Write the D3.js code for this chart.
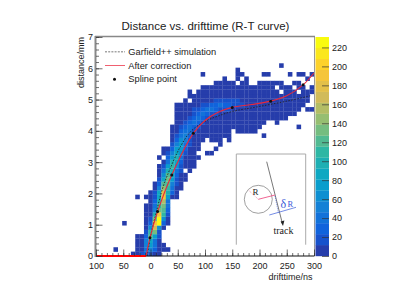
<!DOCTYPE html>
<html>
<head>
<meta charset="utf-8">
<script src="https://cdnjs.cloudflare.com/ajax/libs/d3/7.8.5/d3.min.js"></script>
<style>
  html, body { margin: 0; padding: 0; background: #fff; }
  svg { display: block; }
  text { font-family: "Liberation Sans", Arial, sans-serif; fill: #222; }
  .serif { font-family: "Liberation Serif", serif; }
</style>
</head>
<body>
<div class="container"></div>
<script>
// Histogram rows, bottom to top: first filled column of each row and its counts
const rowStart = [8, 4, 9, 9, 9, 11, 11, 6, 11, 11,
  11, 11, 12, 9, 12, 13, 13, 14, 14, 14,
  14, 15, 14, 15, 15, 17, 17, 17, 17, 17,
  18, 18, 18, 18, 18, 20, 21, 21, 24, 27,
  29, 24, 32, 42];
const rowCounts = [
  [2, 3, 14, 25, 18, 6, 1],
  [1, 0, 0, 0, 0, 4, 10, 40, 55, 30, 8, 2, 1],
  [2, 8, 50, 70, 35, 8, 2],
  [3, 6, 55, 90, 45, 10],
  [2, 5, 30, 125, 70, 12],
  [14, 110, 130, 20],
  [6, 60, 170, 60, 8],
  [2, 0, 0, 0, 0, 3, 30, 190, 225, 25, 3],
  [2, 20, 130, 230, 60, 8],
  [2, 10, 95, 185, 110, 12],
  [1, 5, 50, 130, 125, 25],
  [1, 3, 35, 110, 130, 40],
  [6, 25, 100, 160, 45],
  [1, 0, 1, 3, 18, 90, 195, 75, 8, 2],
  [3, 20, 85, 175, 100, 25, 4],
  [8, 55, 145, 110, 40, 10, 3],
  [5, 32, 120, 120, 55, 14, 3],
  [18, 90, 130, 75, 22, 6, 2],
  [10, 60, 125, 90, 32, 9, 3],
  [5, 38, 100, 100, 45, 12, 0, 3],
  [3, 18, 75, 110, 65, 22, 7, 3, 1],
  [9, 45, 95, 85, 32, 10, 3, 1],
  [1, 0, 25, 75, 95, 40, 10, 3, 1, 1],
  [2, 12, 50, 90, 60, 18, 4, 2, 0, 0, 1, 1],
  [1, 6, 30, 70, 75, 30, 8, 2, 1, 0, 0, 0, 1],
  [15, 50, 70, 40, 12, 3, 1, 0, 0, 0, 0, 1],
  [8, 30, 60, 50, 20, 5, 2, 1, 0, 1, 1, 1, 0, 1],
  [4, 15, 40, 55, 30, 10, 3, 2, 1, 1, 1, 2, 1, 1, 0, 0, 0, 0, 0, 0, 0, 1],
  [2, 8, 25, 45, 40, 18, 6, 3, 2, 2, 1, 1, 1, 1, 0, 1, 1, 1, 1, 1],
  [1, 4, 14, 30, 40, 30, 14, 6, 3, 2, 2, 1, 1, 2, 1, 1, 1, 1, 1, 1, 1, 0, 0, 0, 0, 0, 0, 0, 0, 1],
  [2, 8, 18, 32, 38, 24, 12, 8, 4, 3, 2, 2, 1, 1, 2, 1, 1, 1, 1, 1, 1, 0, 0, 1],
  [1, 4, 10, 20, 32, 35, 24, 14, 8, 5, 3, 3, 2, 2, 1, 1, 2, 1, 1, 1, 1, 1, 1, 1, 1, 1],
  [1, 2, 5, 10, 20, 30, 36, 30, 20, 12, 8, 6, 4, 3, 3, 2, 2, 2, 1, 1, 1, 1, 1, 1, 1, 1, 1, 1],
  [1, 1, 3, 6, 12, 20, 26, 36, 38, 30, 22, 16, 12, 8, 6, 4, 3, 2, 2, 2, 1, 1, 1, 1, 1, 1, 1, 1, 1, 0, 1, 1],
  [1, 1, 2, 3, 6, 10, 16, 20, 26, 32, 36, 32, 26, 22, 20, 14, 8, 4, 3, 2, 2, 2, 1, 1, 1, 1, 1, 1, 1, 1],
  [1, 0, 1, 2, 3, 5, 8, 12, 15, 16, 16, 14, 12, 10, 8, 6, 4, 3, 2, 2, 2, 1, 1, 1, 1, 1, 1, 1, 1],
  [1, 1, 2, 3, 4, 5, 6, 8, 8, 7, 6, 5, 4, 4, 3, 3, 2, 2, 1, 1, 1, 1, 1, 1, 1, 1, 1, 1],
  [1, 0, 1, 1, 1, 1, 2, 2, 2, 2, 2, 2, 1, 1, 1, 1, 1, 1, 1, 1, 1, 0, 1, 1, 1, 0, 1, 1, 1],
  [1, 1, 1, 1, 1, 1, 1, 1, 1, 2, 1, 1, 1, 1, 1, 1, 1, 0, 1, 1, 1, 0, 1, 1, 0, 1],
  [1, 1, 1, 1, 1, 0, 1, 1, 0, 0, 1, 1, 1, 1, 1, 1, 0, 0, 1, 1],
  [1, 0, 0, 1, 0, 1, 0, 0, 0, 0, 0, 0, 0, 0, 0, 0, 0, 0, 0, 1],
  [1, 0, 0, 0, 0, 0, 0, 0, 1, 1, 0, 0, 0, 0, 1, 1, 0, 0, 0, 0, 1, 0, 1, 1, 0, 1],
  [1],
  [1]
];

// Curves
const correctionTime = [-100, -8, -1, 13, 39, 78.5, 100, 125, 150, 185, 220.5, 250, 280, 300];
const correctionDist = [0, 0, 0.58, 1.42, 2.59, 3.92, 4.33, 4.6, 4.75, 4.84, 4.95, 5.12, 5.47, 5.85];
const simTime = [-6, 0, 10, 22, 35, 55, 75, 100, 125, 150, 200, 250, 293];
const simDist = [0, 0.62, 1.35, 2.15, 2.75, 3.5, 4.0, 4.3, 4.48, 4.62, 4.78, 4.95, 5.12];
const splineTime = [-1, 13, 39, 78.5, 150, 220.5, 280];
const splineDist = [0.58, 1.42, 2.59, 3.92, 4.75, 4.95, 5.47];

const xTicks = [-100, -50, 0, 50, 100, 150, 200, 250, 300];
const yTicks = [0, 1, 2, 3, 4, 5, 6, 7];
const colorTicks = [0, 20, 40, 60, 80, 100, 120, 140, 160, 180, 200, 220];
const legendLabels = ["Garfield++ simulation", "After correction", "Spline point"];

// ROOT "bird" palette stops
const birdStops = ["#35298a", "#0f5cdd", "#1481d6", "#06a4ca", "#2eb7a4", "#87bf77", "#d1bb59", "#fec832", "#f9fb0e"];

const width = 415;
const height = 294;
const nBinsX = 50;
const nBinsY = 50;
const maxCount = 231;
const nContours = 20;

const x = d3.scaleLinear().domain([-100, 300]).range([96, 314]);
const y = d3.scaleLinear().domain([0, 7]).range([256, 37]);
const colorAxis = d3.scaleLinear().domain([0, maxCount]).range([256, 37]);

const bird = d3.scaleLinear()
    .domain(birdStops.map((d, i) => i / (birdStops.length - 1)))
    .range(birdStops);
const bands = d3.range(nContours).map(i => bird((i + 1) / nContours));
const color = d3.scaleQuantize().domain([0, maxCount]).range(bands);

const svg = d3.select(".container").append("svg")
    .attr("width", width)
    .attr("height", height);

svg.append("text")
    .attr("x", 205.5)
    .attr("y", 30)
    .attr("text-anchor", "middle")
    .attr("font-size", 11.5)
    .text("Distance vs. drifttime (R-T curve)");

// Histogram cells
const binW = (x(300) - x(-100)) / nBinsX;
const binH = (y(0) - y(7)) / nBinsY;
const cells = [];
rowCounts.forEach(function(row, j) {
  row.forEach(function(c, k) {
    if (c > 0) cells.push({ col: rowStart[j] + k, row: j, count: c });
  });
});
svg.append("g").selectAll("rect")
    .data(cells)
    .enter().append("rect")
    .attr("x", d => x(-100) + d.col * binW)
    .attr("y", d => y(0) - (d.row + 1) * binH)
    .attr("width", binW + 0.2)
    .attr("height", binH + 0.2)
    .attr("fill", d => color(d.count));

// Colour bar
svg.append("g").selectAll("rect")
    .data(bands)
    .enter().append("rect")
    .attr("x", 315.5)
    .attr("width", 13.5)
    .attr("y", (d, i) => colorAxis((i + 1) * maxCount / nContours))
    .attr("height", maxCount / nContours * (219 / maxCount) + 0.2)
    .attr("fill", d => d);

const colorG = svg.append("g")
    .attr("transform", "translate(329,0)")
    .call(d3.axisRight(colorAxis).tickValues(colorTicks).tickSize(0).tickPadding(3));
colorG.select(".domain").remove();
colorG.selectAll("text").attr("font-size", 9).style("font-family", "Liberation Sans").attr("fill", "#222");
colorG.selectAll(".tick").append("line")
    .attr("x1", -7).attr("x2", 0).attr("stroke", "#333").attr("stroke-width", 0.7);

// Curves
const curve = d3.line().x(d => x(d[0])).y(d => y(d[1])).curve(d3.curveCatmullRom);
svg.append("path")
    .datum(d3.zip(simTime, simDist))
    .attr("d", curve)
    .attr("fill", "none")
    .attr("stroke", "#222")
    .attr("stroke-width", 0.9)
    .attr("stroke-dasharray", "1.5 1.5");
svg.append("path")
    .datum(d3.zip(correctionTime.slice(0, 2), correctionDist.slice(0, 2)))
    .attr("d", curve)
    .attr("fill", "none")
    .attr("stroke", "#f00")
    .attr("stroke-width", 2);
svg.append("path")
    .datum(d3.zip(correctionTime.slice(1), correctionDist.slice(1)))
    .attr("d", curve)
    .attr("fill", "none")
    .attr("stroke", "#e8283c")
    .attr("stroke-width", 1.1);
svg.append("g").selectAll("circle")
    .data(d3.zip(splineTime, splineDist))
    .enter().append("circle")
    .attr("cx", d => x(d[0]))
    .attr("cy", d => y(d[1]))
    .attr("r", 1.5)
    .attr("fill", "#111");

// Frame
svg.append("path").attr("d", "M95.5,256V36.5H314.5V256").attr("fill", "none").attr("stroke", "#999").attr("stroke-width", 1);
svg.append("line").attr("x1", 95.5).attr("x2", 95.5).attr("y1", 36).attr("y2", 257).attr("stroke", "#888").attr("stroke-width", 2);
svg.append("line").attr("x1", 95).attr("x2", 315).attr("y1", 36.5).attr("y2", 36.5).attr("stroke", "#888").attr("stroke-width", 1.5);

// Axes, ticks point into the plot
function styleAxis(g) {
  g.select(".domain").remove();
  g.selectAll("line").attr("stroke", "#333").attr("stroke-width", 0.7);
  g.selectAll("text").attr("font-size", 9).style("font-family", "Liberation Sans").attr("fill", "#222");
}
svg.append("g")
    .attr("transform", "translate(0,256)")
    .call(d3.axisBottom(x).tickValues(d3.range(-100, 301, 10)).tickSize(-3).tickFormat(""))
    .call(styleAxis);
svg.append("g")
    .attr("transform", "translate(0,256)")
    .call(d3.axisBottom(x).tickValues(xTicks).tickSize(-6.5).tickPadding(6.7).tickFormat(d => Math.abs(d)))
    .call(styleAxis);
svg.append("line")
    .attr("x1", x(-8)).attr("x2", 314.5).attr("y1", 256).attr("y2", 256)
    .attr("stroke", "#111").attr("stroke-width", 1.2);

svg.append("g")
    .attr("transform", "translate(96,0)")
    .call(d3.axisLeft(y).tickValues(d3.range(0, 7.01, 0.2)).tickSize(-3).tickFormat(""))
    .call(styleAxis);
svg.append("g")
    .attr("transform", "translate(96,0)")
    .call(d3.axisLeft(y).tickValues(yTicks).tickSize(-6.5).tickPadding(3).tickFormat(d3.format("d")))
    .call(styleAxis);

svg.append("text")
    .attr("x", 312.5).attr("y", 279.5)
    .attr("text-anchor", "end")
    .attr("font-size", 9)
    .text("drifttime/ns");
svg.append("text")
    .attr("transform", "translate(83.5,37) rotate(-90)")
    .attr("text-anchor", "end")
    .attr("font-size", 9)
    .text("distance/mm");

// Legend
const legendY = d3.scaleBand().domain(legendLabels).range([45, 86]);
const legend = svg.append("g").selectAll("g")
    .data(legendLabels)
    .enter().append("g")
    .attr("transform", d => "translate(0," + (legendY(d) + legendY.bandwidth() / 2) + ")");
legend.append("text")
    .attr("x", 128.3).attr("y", 3.2)
    .attr("font-size", 9.3)
    .attr("fill", "#222")
    .text(d => d);
legend.filter((d, i) => i === 0).append("line")
    .attr("x1", 105).attr("x2", 125)
    .attr("stroke", "#555").attr("stroke-width", 0.8).attr("stroke-dasharray", "2 1.2");
legend.filter((d, i) => i === 1).append("line")
    .attr("x1", 105).attr("x2", 125)
    .attr("stroke", "#f06070").attr("stroke-width", 1);
legend.filter((d, i) => i === 2).append("circle")
    .attr("cx", 114.5).attr("r", 1.5).attr("fill", "#111");

// Inset sketch of the drift circle
const inset = svg.append("g");
inset.append("path").attr("d", "M236.3,244.7V154H305.7V244.7")
    .attr("fill", "none").attr("stroke", "#aaa").attr("stroke-width", 1);
inset.append("circle").attr("cx", 258.3).attr("cy", 199.3).attr("r", 14)
    .attr("fill", "none").attr("stroke", "#777").attr("stroke-width", 0.7);
inset.append("line").attr("x1", 266.7).attr("y1", 161.7).attr("x2", 282.5).attr("y2", 224)
    .attr("stroke", "#555").attr("stroke-width", 0.8);
inset.append("path").attr("d", "M283,226L280.6,221.5L284.4,220.6Z").attr("fill", "#222");
inset.append("line").attr("x1", 258.3).attr("y1", 199.3).attr("x2", 275).attr("y2", 195)
    .attr("stroke", "#ee5588").attr("stroke-width", 0.9);
inset.append("line").attr("x1", 258.3).attr("y1", 199.3).attr("x2", 248.3).attr("y2", 190)
    .attr("stroke", "#ee7799").attr("stroke-width", 0.7).attr("stroke-dasharray", "1 1");
inset.append("line").attr("x1", 269.3).attr("y1", 215).attr("x2", 296).attr("y2", 207.3)
    .attr("stroke", "#3a5ad8").attr("stroke-width", 0.7);
inset.append("line").attr("x1", 275).attr("y1", 196).attr("x2", 278.5).attr("y2", 213.5)
    .attr("stroke", "#3a5ad8").attr("stroke-width", 0.6).attr("stroke-dasharray", "1 1");
inset.append("text").attr("class", "serif").attr("x", 252.5).attr("y", 195)
    .attr("font-size", 9).text("R");
inset.append("text").attr("class", "serif").attr("x", 280.5).attr("y", 208)
    .attr("font-size", 12).style("fill", "#3a5ad8").text("δ");
inset.append("text").attr("class", "serif").attr("x", 287.5).attr("y", 207)
    .attr("font-size", 8.5).style("fill", "#3a5ad8").text("R");
inset.append("text").attr("class", "serif").attr("x", 273.5).attr("y", 234)
    .attr("font-size", 10).text("track");
</script>
</body>
</html>
